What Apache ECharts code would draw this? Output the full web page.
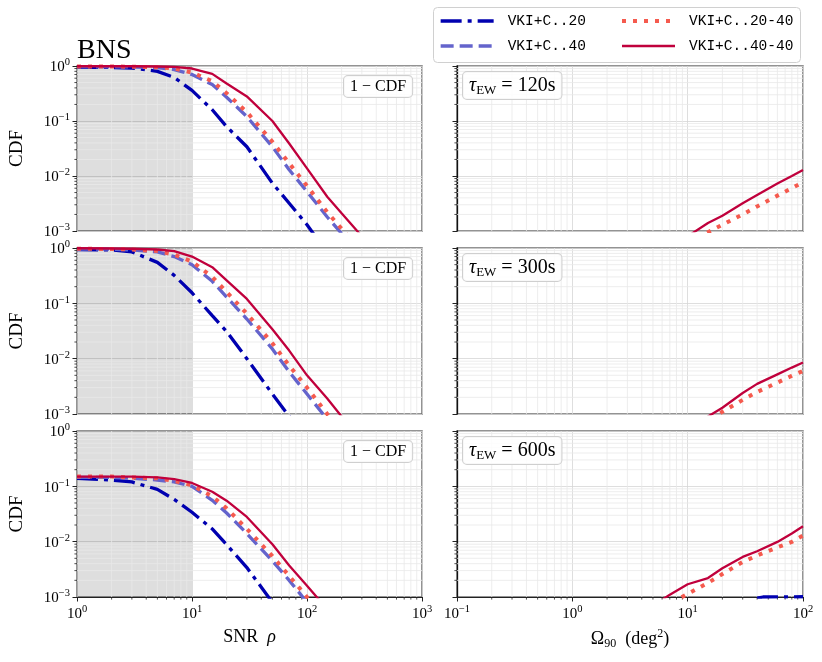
<!DOCTYPE html>
<html><head><meta charset="utf-8">
<script src="https://cdn.jsdelivr.net/npm/echarts@6.0.0/dist/echarts.min.js"></script>
<style>html,body{margin:0;padding:0;background:#fff}#c{width:822px;height:662px}</style>
</head><body><div id="c"></div><script>
// ---------------- data ----------------
const seriesNames = ['VKI+C..20', 'VKI+C..40', 'VKI+C..20-40', 'VKI+C..40-40'];
const tauLabels = ['120s', '300s', '600s'];

// SNR rho (left panels)
const snr = [1, 2, 3, 5, 7, 10, 15, 20, 30, 50, 70, 100, 150, 200, 300];
const snr20_120   = [0.95, 0.94, 0.92, 0.80, 0.62, 0.36, 0.16, 0.079, 0.034, 0.0074, 0.0032, 0.0013, 0.0004, 0.00018, 0.00006];
const snr40_120   = [0.97, 0.97, 0.96, 0.93, 0.86, 0.70, 0.46, 0.27, 0.12, 0.034, 0.013, 0.0052, 0.0018, 0.0009, 0.0003];
const snr2040_120 = [0.98, 0.98, 0.97, 0.95, 0.90, 0.76, 0.53, 0.32, 0.145, 0.042, 0.017, 0.0066, 0.0022, 0.0011, 0.0004];
const snr4040_120 = [0.99, 0.99, 0.99, 0.98, 0.96, 0.90, 0.72, 0.48, 0.28, 0.10, 0.039, 0.0138, 0.0042, 0.0021, 0.0008];

const snr20_300   = [0.94, 0.92, 0.85, 0.55, 0.32, 0.155, 0.06, 0.031, 0.010, 0.0023, 0.0009, 0.0003, 0.0001, 0.00004, 0.00001];
const snr40_300   = [0.96, 0.95, 0.92, 0.85, 0.70, 0.50, 0.25, 0.13, 0.052, 0.015, 0.0058, 0.0023, 0.0008, 0.0003, 0.0001];
const snr2040_300 = [0.97, 0.96, 0.94, 0.88, 0.76, 0.57, 0.30, 0.16, 0.065, 0.019, 0.0075, 0.003, 0.001, 0.0004, 0.00015];
const snr4040_300 = [0.99, 0.98, 0.97, 0.94, 0.88, 0.70, 0.45, 0.26, 0.12, 0.034, 0.014, 0.005, 0.0019, 0.0009, 0.0003];

const snr20_600   = [0.14, 0.13, 0.12, 0.088, 0.058, 0.034, 0.017, 0.0088, 0.0034, 0.0008, 0.0003, 0.0001, 0.00003, 0.00001, 0.000005];
const snr40_600   = [0.145, 0.145, 0.14, 0.13, 0.12, 0.10, 0.056, 0.033, 0.014, 0.0045, 0.002, 0.0008, 0.0003, 0.0001, 0.00004];
const snr2040_600 = [0.15, 0.15, 0.145, 0.14, 0.125, 0.105, 0.066, 0.04, 0.017, 0.0055, 0.0024, 0.001, 0.0004, 0.00015, 0.00005];
const snr4040_600 = [0.15, 0.15, 0.15, 0.145, 0.135, 0.115, 0.08, 0.055, 0.028, 0.009, 0.0037, 0.0016, 0.0006, 0.0003, 0.0001];

// Omega_90 (right panels)
const omega = [5, 7, 10, 15, 20, 30, 40, 60, 80, 100];
const om2040_120 = [0.0002, 0.0003, 0.0006, 0.00095, 0.0013, 0.002, 0.0028, 0.0044, 0.006, 0.0077];
const om4040_120 = [0.0003, 0.0005, 0.0008, 0.0014, 0.0019, 0.0032, 0.0045, 0.0073, 0.0100, 0.0129];
const om2040_300 = [0.0001, 0.0002, 0.0004, 0.0007, 0.0011, 0.0018, 0.0025, 0.0037, 0.0049, 0.006];
const om4040_300 = [0.0002, 0.0003, 0.0005, 0.0009, 0.0013, 0.0024, 0.0035, 0.0052, 0.0069, 0.0085];
const om2040_600 = [0.0005, 0.00075, 0.00114, 0.0018, 0.0026, 0.0043, 0.0056, 0.0079, 0.0099, 0.0129];
const om4040_600 = [0.0007, 0.0011, 0.0017, 0.0022, 0.0033, 0.0053, 0.0067, 0.0099, 0.014, 0.019];
const omegaBlue600 = [40, 45, 100];
const om20_600 = [0.00095, 0.001, 0.00101];

// ticks
const snrRange = [1, 1000];
const omegaRange = [0.1, 100];
const cdfRange = [0.001, 1];
const snrMinor = [2,3,4,5,6,7,8,9,20,30,40,50,60,70,80,90,200,300,400,500,600,700,800,900];
const omegaMinor = [0.2,0.3,0.4,0.5,0.6,0.7,0.8,0.9,2,3,4,5,6,7,8,9,20,30,40,50,60,70,80,90];
const cdfMinor = [0.002,0.003,0.004,0.005,0.006,0.007,0.008,0.009,0.02,0.03,0.04,0.05,0.06,0.07,0.08,0.09,0.2,0.3,0.4,0.5,0.6,0.7,0.8,0.9];
const shadeRange = [1, 10];

// ---------------- styling ----------------
const SERIF = 'Liberation Serif';
const MONO = 'Liberation Mono';
const STY = {
  'VKI+C..20':    {color: '#0000b0', width: 3.3, type: [21, 6, 4, 6]},
  'VKI+C..40':    {color: '#6464cc', width: 3.3, type: [13, 6]},
  'VKI+C..20-40': {color: '#f55a4e', width: 4,   type: [4, 7]},
  'VKI+C..40-40': {color: '#c0003c', width: 2.3, type: 'solid'}
};
const MAJOR = '#d6d6d6', MINOR = '#e8e8e8', TICK = '#222', FRAME = '#707070';
const LX = 77, LW = 345, RX = 457, RW = 346;
const TOPS = [66, 248, 431], HS = [165, 166, 166];

const leftData = [
  [snr20_120, snr40_120, snr2040_120, snr4040_120],
  [snr20_300, snr40_300, snr2040_300, snr4040_300],
  [snr20_600, snr40_600, snr2040_600, snr4040_600]
];
const rightData = [
  [null, null, om2040_120, om4040_120],
  [null, null, om2040_300, om4040_300],
  [[omegaBlue600, om20_600], null, om2040_600, om4040_600]
];

function pow10(v) {
  const e = Math.round(Math.log10(v));
  return '{b|10}{s|' + (e < 0 ? '\u2212' + (-e) : e) + '}';
}
const tickRich = {
  b: {fontFamily: SERIF, fontSize: 15, color: '#000', lineHeight: 18, verticalAlign: 'bottom'},
  s: {fontFamily: SERIF, fontSize: 10.5, color: '#000', lineHeight: 10, verticalAlign: 'top'}
};

const grids = [], xAxes = [], yAxes = [], series = [], graphics = [];

function lineSeries(name, gi, xs, ys) {
  const st = STY[name];
  return {
    type: 'line', name, xAxisIndex: gi, yAxisIndex: gi,
    data: xs.map((x, i) => [x, ys[i]]),
    symbol: 'none', showSymbol: false, clip: true, z: 3, silent: true,
    lineStyle: {color: st.color, width: st.width, type: st.type, cap: 'butt'},
    itemStyle: {color: st.color}
  };
}

function gridSeries(gi, xMinor, xRef, showXTick) {
  const data = xMinor.map(v => [v, cdfRange[0], 0]).concat(cdfMinor.map(v => [xRef, v, 1]));
  return {
    type: 'custom', xAxisIndex: gi, yAxisIndex: gi, data, silent: true, z: 1, clip: false,
    encode: {x: 0, y: 1},
    renderItem: (params, api) => {
      const cs = params.coordSys;
      const p = api.coord([api.value(0), api.value(1)]);
      const ch = [];
      if (api.value(2) === 0) {
        ch.push({type: 'line', shape: {x1: p[0], y1: cs.y, x2: p[0], y2: cs.y + cs.height}, style: {stroke: MINOR, lineWidth: 0.8}});
        if (showXTick) ch.push({type: 'line', shape: {x1: p[0], y1: cs.y + cs.height, x2: p[0], y2: cs.y + cs.height + 2.6}, style: {stroke: TICK, lineWidth: 0.8}});
      } else {
        ch.push({type: 'line', shape: {x1: cs.x, y1: p[1], x2: cs.x + cs.width, y2: p[1]}, style: {stroke: MINOR, lineWidth: 0.8}});
        ch.push({type: 'line', shape: {x1: cs.x - 2.6, y1: p[1], x2: cs.x, y2: p[1]}, style: {stroke: TICK, lineWidth: 0.8}});
      }
      return {type: 'group', children: ch};
    }
  };
}

for (let r = 0; r < 3; r++) {
  const bottom = r === 2;
  for (let c = 0; c < 2; c++) {
    const gi = r * 2 + c;
    const left = c === 0;
    grids.push({left: left ? LX : RX, top: TOPS[r], width: left ? LW : RW, height: HS[r],
      show: true, borderColor: FRAME, borderWidth: 1.5, backgroundColor: 'transparent'});
    const xr = left ? snrRange : omegaRange;
    const xAx = {
      type: 'log', logBase: 10, gridIndex: gi, min: xr[0], max: xr[1],
      axisLine: {show: bottom, lineStyle: {color: '#222', width: 1.2}},
      axisTick: {show: bottom, inside: false, length: 4.5, lineStyle: {color: TICK, width: 1}},
      axisLabel: {show: bottom, margin: 7, formatter: pow10, rich: tickRich, showMinLabel: true, showMaxLabel: true},
      splitLine: {show: true, lineStyle: {color: MAJOR, width: 0.8}},
      minorTick: {show: false}, minorSplitLine: {show: false}
    };
    if (bottom) {
      xAx.nameLocation = 'middle';
      xAx.nameGap = 31;
      if (left) {
        xAx.name = '{t|SNR  }{i|\u03c1}';
        xAx.nameTextStyle = {rich: {t: {fontFamily: SERIF, fontSize: 18, color: '#000'}, i: {fontFamily: SERIF, fontSize: 18, fontStyle: 'italic', color: '#000'}}};
      } else {
        xAx.name = '{t|\u03a9}{sub|90}{t|  (deg}{sup|2}{t|)}';
        xAx.nameTextStyle = {rich: {
          t: {fontFamily: SERIF, fontSize: 18, color: '#000', lineHeight: 22, verticalAlign: 'middle'},
          sub: {fontFamily: SERIF, fontSize: 12, color: '#000', lineHeight: 10, verticalAlign: 'bottom'},
          sup: {fontFamily: SERIF, fontSize: 12, color: '#000', lineHeight: 10, verticalAlign: 'top'}
        }};
      }
    }
    xAxes.push(xAx);
    const yAx = {
      type: 'log', logBase: 10, gridIndex: gi, min: cdfRange[0], max: cdfRange[1],
      axisLine: {show: !left, lineStyle: {color: '#111', width: 1.3}},
      axisTick: {show: true, inside: false, length: 4.5, lineStyle: {color: TICK, width: 1}},
      axisLabel: {show: left, margin: 7, formatter: pow10, rich: tickRich, showMinLabel: true, showMaxLabel: true},
      splitLine: {show: true, lineStyle: {color: MAJOR, width: 0.8}},
      minorTick: {show: false}, minorSplitLine: {show: false}
    };
    if (left) {
      yAx.name = 'CDF';
      yAx.nameLocation = 'middle';
      yAx.nameGap = 50;
      yAx.nameRotate = 90;
      yAx.nameTextStyle = {fontFamily: SERIF, fontSize: 19, color: '#000'};
    }
    yAxes.push(yAx);

    series.push(gridSeries(gi, left ? snrMinor : omegaMinor, xr[0], bottom));
    if (left) {
      series.push({type: 'line', xAxisIndex: gi, yAxisIndex: gi, data: [], silent: true, z: 2,
        markArea: {silent: true, itemStyle: {color: 'rgba(0,0,0,0.13)'}, data: [[{xAxis: shadeRange[0]}, {xAxis: shadeRange[1]}]]}});
      leftData[r].forEach((ys, k) => series.push(lineSeries(seriesNames[k], gi, snr, ys)));
    } else {
      rightData[r].forEach((d, k) => {
        if (!d) return;
        if (Array.isArray(d[0])) series.push(lineSeries(seriesNames[k], gi, d[0], d[1]));
        else series.push(lineSeries(seriesNames[k], gi, omega, d));
      });
    }
  }
  // annotation boxes
  graphics.push({type: 'text', left: 343, top: TOPS[r] + 9, z: 10,
    style: {text: '1 \u2212 CDF', fontFamily: SERIF, fontSize: 16, fill: '#000',
      backgroundColor: 'rgba(255,255,255,0.85)', borderColor: '#cfcfcf', borderWidth: 1, borderRadius: 4, padding: [3, 6, 2, 6]}});
  graphics.push({type: 'text', left: 462, top: TOPS[r] + 5, z: 10,
    style: {text: '{i|\u03c4}{sub|EW}{t| = ' + tauLabels[r] + '}',
      backgroundColor: 'rgba(255,255,255,0.85)', borderColor: '#cfcfcf', borderWidth: 1, borderRadius: 4, padding: [3, 6, 2, 6],
      rich: {
        i: {fontFamily: SERIF, fontSize: 20, fontStyle: 'italic', fill: '#000', lineHeight: 22, verticalAlign: 'middle'},
        sub: {fontFamily: SERIF, fontSize: 13, fill: '#000', lineHeight: 12, verticalAlign: 'bottom'},
        t: {fontFamily: SERIF, fontSize: 20, fill: '#000', lineHeight: 22, verticalAlign: 'middle'}
      }}});
}

graphics.push({type: 'text', left: 77, top: 37, style: {text: 'BNS', fontFamily: SERIF, fontSize: 28, fill: '#000'}});
graphics.push({type: 'rect', z: 0, shape: {x: 433.5, y: 7.5, width: 367, height: 55, r: 4},
  style: {fill: '#fff', stroke: '#d0d0d0', lineWidth: 1}});

const legendBase = {
  orient: 'vertical', top: 13, itemWidth: 53, itemHeight: 14, itemGap: 9, selectedMode: false, padding: 0,
  itemStyle: {color: 'rgba(0,0,0,0)', borderWidth: 0, opacity: 0},
  lineStyle: {width: 'inherit', type: 'inherit'},
  textStyle: {fontFamily: MONO, fontSize: 14.5, color: '#000', lineHeight: 16, padding: [0, 0, 0, 9]}
};

const chart = echarts.init(document.getElementById('c'), null, {renderer: 'canvas'});
chart.setOption({
  animation: false,
  backgroundColor: '#fff',
  grid: grids, xAxis: xAxes, yAxis: yAxes, series,
  legend: [
    Object.assign({}, legendBase, {left: 439, data: [seriesNames[0], seriesNames[1]]}),
    Object.assign({}, legendBase, {left: 620, data: [seriesNames[2], seriesNames[3]]})
  ],
  graphic: graphics
});
</script></body></html>
